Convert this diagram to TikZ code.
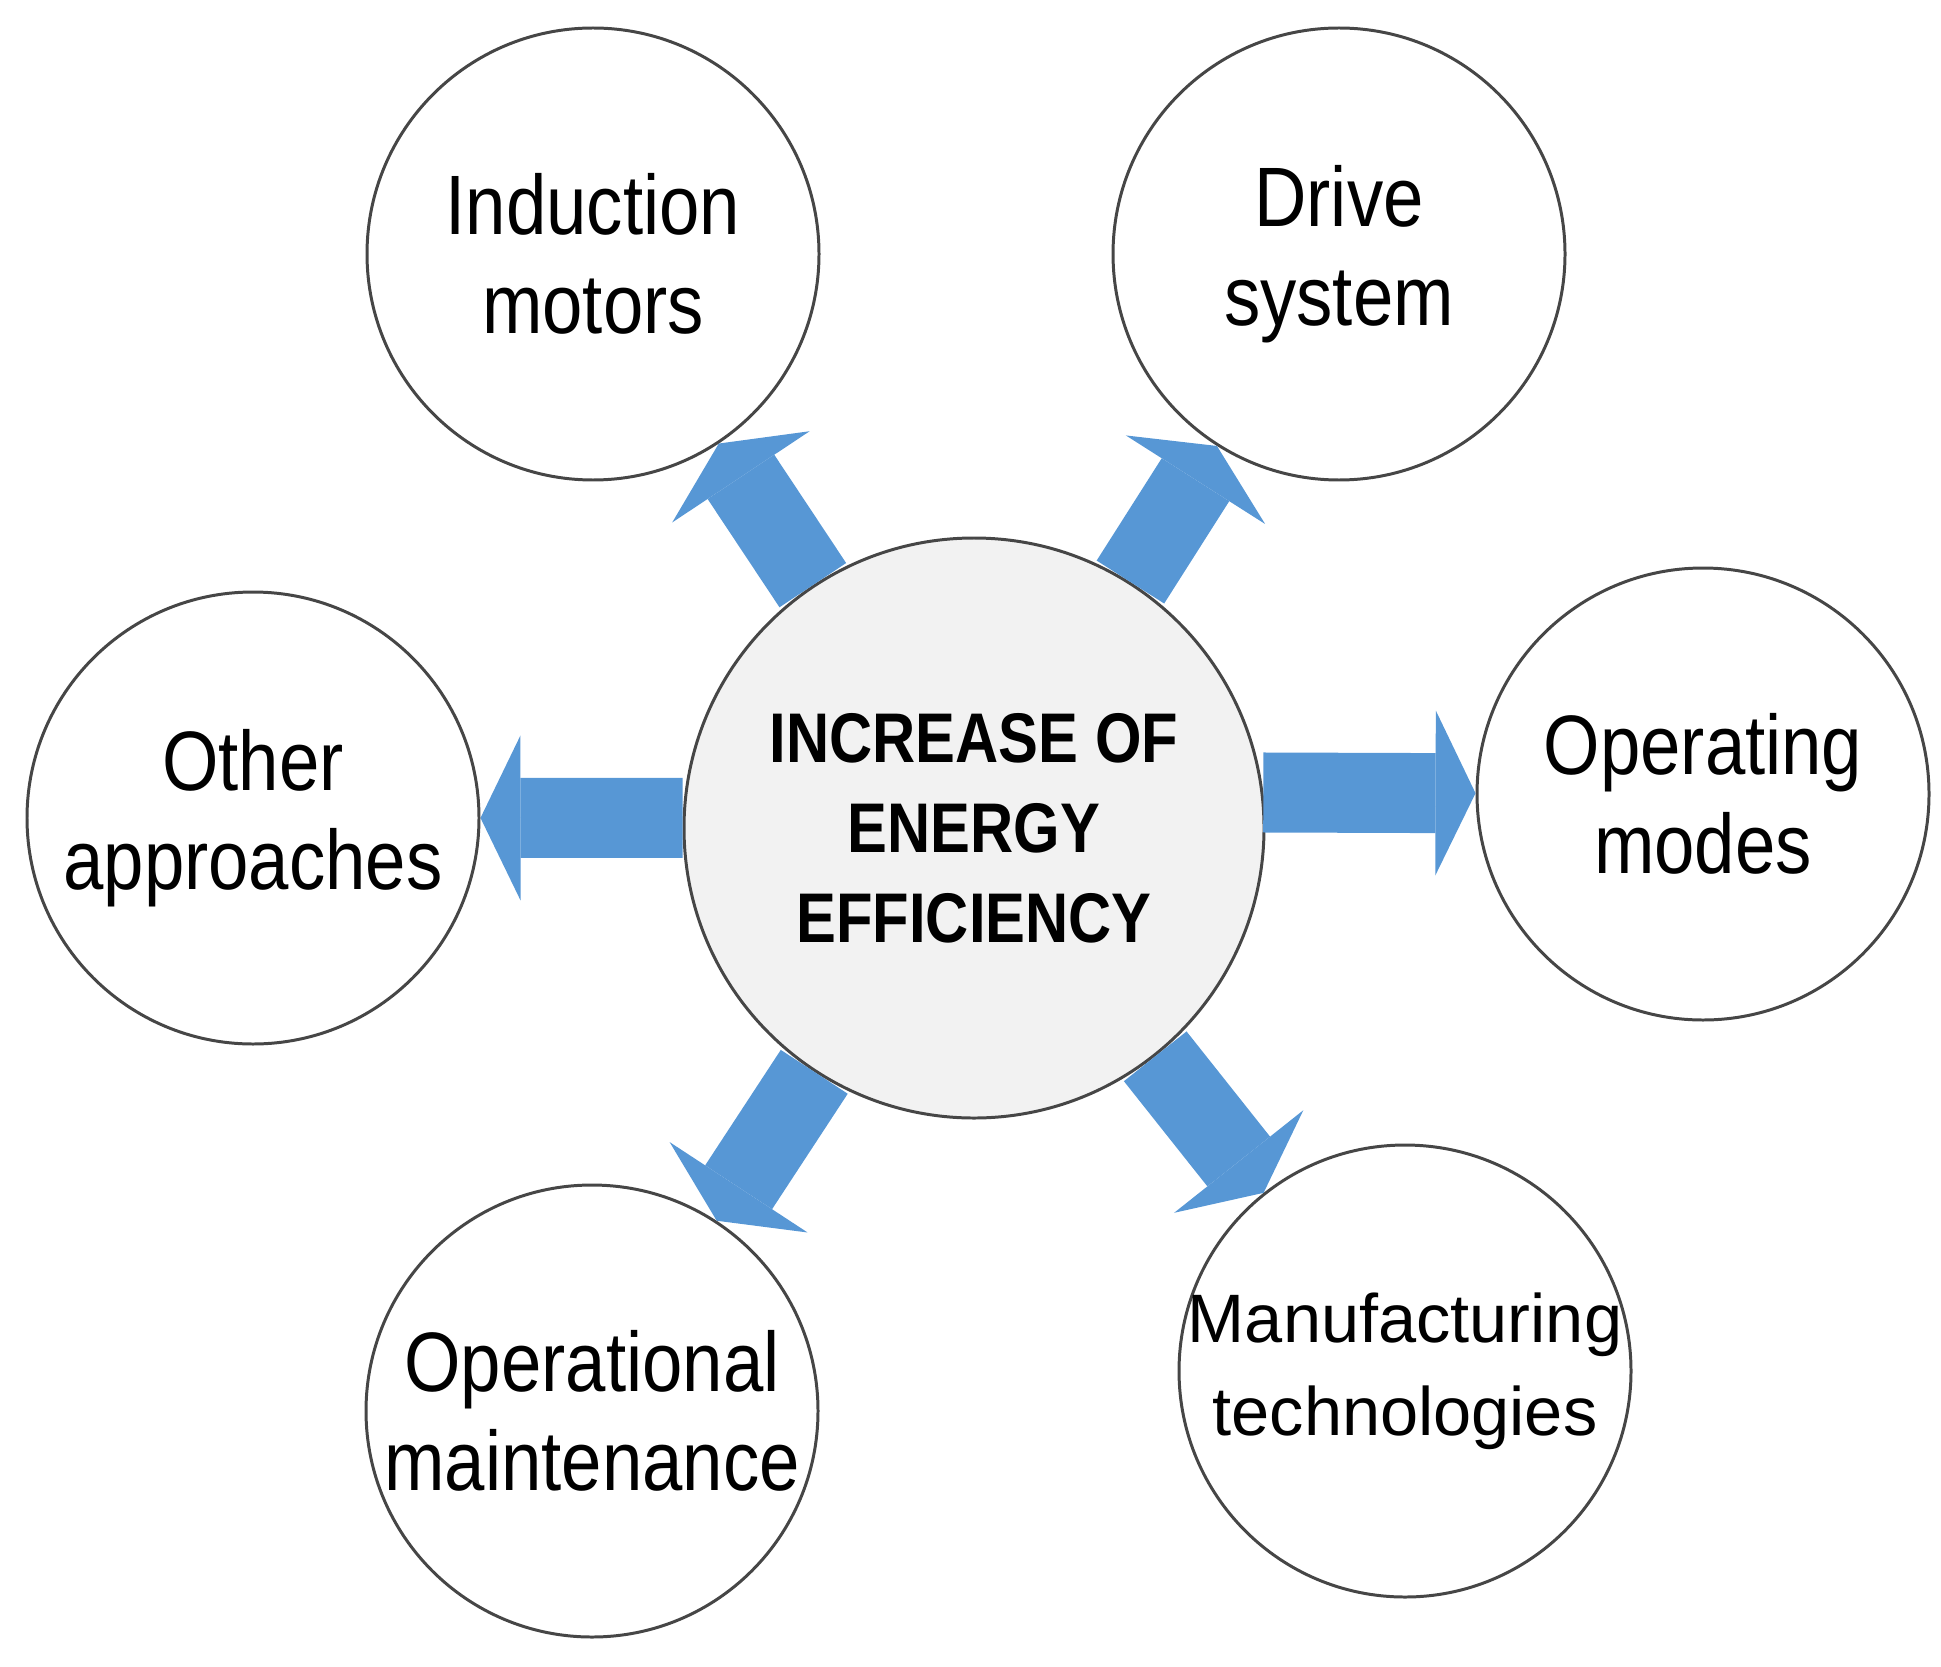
\documentclass[tikz,border=0pt]{standalone}
\usepackage{fontspec}
\setmainfont{Liberation Sans}
\newfontfamily\narrowsans{Liberation Sans}[FakeStretch=0.86]
\newfontfamily\hubsans{Liberation Sans}[FakeStretch=0.85]
\usetikzlibrary{arrows.meta}
\definecolor{flowblue}{RGB}{87,151,213}
\definecolor{hubgray}{RGB}{242,242,242}
\definecolor{rimgray}{RGB}{70,70,70}

\begin{document}
\begin{tikzpicture}[y=-1cm,
  bubble/.style={circle, draw=rimgray, line width=0.85pt, fill=white,
                 minimum size=4.52cm, inner sep=0pt},
  caption/.style={align=center, font=\narrowsans\fontsize{24}{28}\selectfont},
  flow/.style={draw=flowblue, line width=0.8cm,
               -{Triangle[width=1.65cm, length=0.4cm, line width=0pt]}}]
  \useasboundingbox (0,0) rectangle (19.41,16.66);

  % centre
  \node[circle, draw=rimgray, line width=0.85pt, fill=hubgray,
        minimum size=5.8cm, align=center,
        font=\hubsans\bfseries\fontsize{20}{25.6}\selectfont]
        (hub) at (9.74,8.28) {INCREASE OF\\ENERGY\\EFFICIENCY};

  % surrounding topics
  \node[bubble, label={[caption]center:Induction\\motors}] (motors) at (5.93,2.54) {};
  \node[bubble, label={[caption]center:Drive\\system}] (drive) at (13.39,2.54) {};
  \node[bubble, label={[caption]center:Operating\\modes}] (modes) at (17.03,7.94) {};
  \node[bubble, label={[caption]center:Other\\approaches}] (other) at (2.53,8.18) {};
  \node[bubble, label={[caption]center:Operational\\maintenance}] (maint) at (5.92,14.11) {};
  \node[bubble, label={[caption, font=\fontsize{19.5}{26.5}\selectfont]center:Manufacturing\\technologies}]
        (manuf) at (14.05,13.71) {};

  % arrows (the two side ones run level)
  \draw[flow] (hub) -- (motors);
  \draw[flow] (hub) -- (drive);
  \draw[flow] (hub.7) -- (modes);
  \draw[flow] (hub.178) -- (other);
  \draw[flow] (hub) -- (maint);
  \draw[flow] (hub) -- (manuf);
\end{tikzpicture}
\end{document}
